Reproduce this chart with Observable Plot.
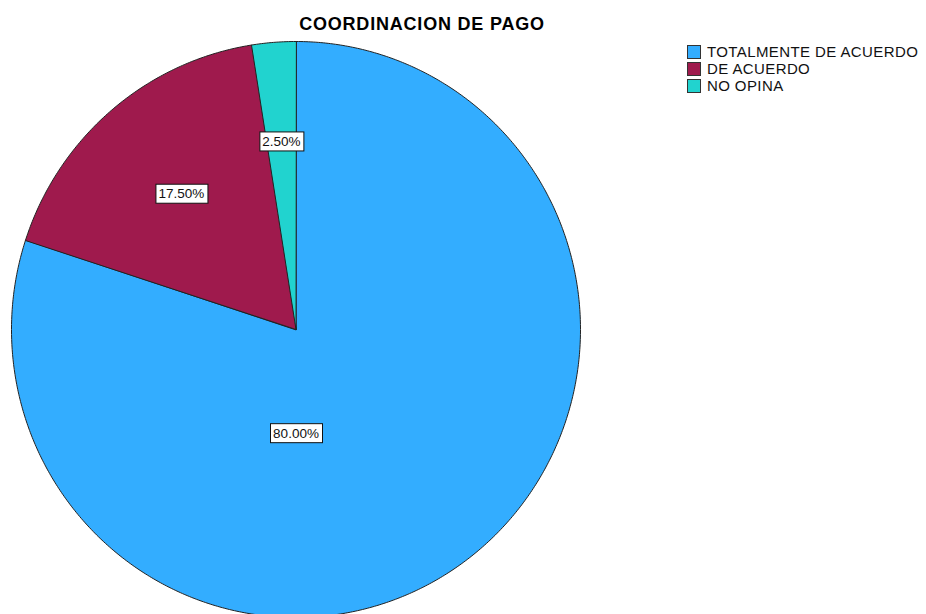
<!DOCTYPE html>
<html>
<head>
<meta charset="utf-8">
<script src="https://cdn.jsdelivr.net/npm/d3@7"></script>
<script src="https://cdn.jsdelivr.net/npm/@observablehq/plot@0.6"></script>
<style>
  html, body { margin: 0; padding: 0; background: #fff; }
  #wrap { position: relative; width: 926px; height: 614px; overflow: hidden; font-family: Arial, "Liberation Sans", sans-serif; }
  #wrap svg.chart { position: absolute; left: 0; top: 0; }
  #title { position: absolute; left: 0; width: 844px; top: 16px; text-align: center; font-size: 18px; line-height: 17px; font-weight: bold; letter-spacing: 0.8px; color: #000; }
  #legend { position: absolute; left: 687px; top: 43px; font-size: 15px; letter-spacing: 0.4px; color: #111; }
  #legend .row { display: flex; align-items: center; height: 17px; white-space: nowrap; }
  #legend .sw { width: 12px; height: 12px; border: 1px solid #333; margin-right: 6px; flex: none; }
</style>
</head>
<body>
<div id="wrap">
  <div id="title">COORDINACION DE PAGO</div>
  <div id="legend"></div>
</div>
<script>
// ---- data ----
const categories = ["TOTALMENTE DE ACUERDO", "DE ACUERDO", "NO OPINA"];
const percents = [80.0, 17.5, 2.5];
const labels = ["80.00%", "17.50%", "2.50%"];
const colors = ["#33adff", "#9f1a4d", "#21d3cf"];

// ---- layout ----
const W = 926, H = 614;
const cx = 295.5, cy = 329, rx = 284.5, ry = 288;
// label placement (radius as fraction of pie radius; angle null = slice middle)
const labelRadius = [0.36, 0.62, 0.655];
const labelAngle = [180, null, null];

// build slice outlines in unit-circle data space (angle clockwise from 12 o'clock)
const total = d3.sum(percents);
const slicePts = [];
const labelData = [];
let start = 0;
categories.forEach((cat, i) => {
  const sweep = percents[i] / total * 360;
  const end = start + sweep;
  slicePts.push({cat, x: 0, y: 0});
  const n = Math.max(2, Math.ceil(sweep / 0.5));
  for (let k = 0; k <= n; k++) {
    const a = (start + sweep * k / n) * Math.PI / 180;
    slicePts.push({cat, x: Math.sin(a), y: Math.cos(a)});
  }
  const la = (labelAngle[i] ?? (start + sweep / 2)) * Math.PI / 180;
  labelData.push({cat, text: labels[i], x: labelRadius[i] * Math.sin(la), y: labelRadius[i] * Math.cos(la)});
  start = end;
});

const chart = Plot.plot({
  width: W,
  height: H,
  margin: 0,
  style: {background: "transparent"},
  x: {domain: [-1, 1], range: [cx - rx, cx + rx], axis: null},
  y: {domain: [-1, 1], range: [cy + ry, cy - ry], axis: null},
  color: {domain: categories, range: colors},
  marks: [
    Plot.line(slicePts, {x: "x", y: "y", z: "cat", fill: "cat", stroke: "#222", strokeWidth: 1, curve: "linear-closed"}),
    Plot.text(labelData, {x: "x", y: "y", text: "text", fill: "#111", fontSize: 13.5, fontFamily: "Arial, 'Liberation Sans', sans-serif"})
  ]
});
chart.classList.add("chart");
document.getElementById("wrap").appendChild(chart);

// white label boxes behind the percentage texts
d3.select(chart).selectAll("g[aria-label='text'] text").each(function () {
  const b = this.getBBox();
  const padX = 3, padY = 2;
  const tr = this.getAttribute("transform");
  const r = d3.select(this.parentNode).insert("rect", () => this)
    .attr("x", Math.round(b.x - padX) + 0.5)
    .attr("y", Math.round(b.y - padY) + 0.5)
    .attr("width", Math.round(b.width + 2 * padX))
    .attr("height", Math.round(b.height + 2 * padY))
    .attr("fill", "#fff")
    .attr("stroke", "#111")
    .attr("stroke-width", 1);
  if (tr) r.attr("transform", tr);
});

// legend from the chart's color scale
const cs = chart.scale("color");
const legend = d3.select("#legend");
cs.domain.forEach((d, i) => {
  const row = legend.append("div").attr("class", "row");
  row.append("div").attr("class", "sw").style("background", cs.range[i]);
  row.append("span").text(d);
});
</script>
</body>
</html>
